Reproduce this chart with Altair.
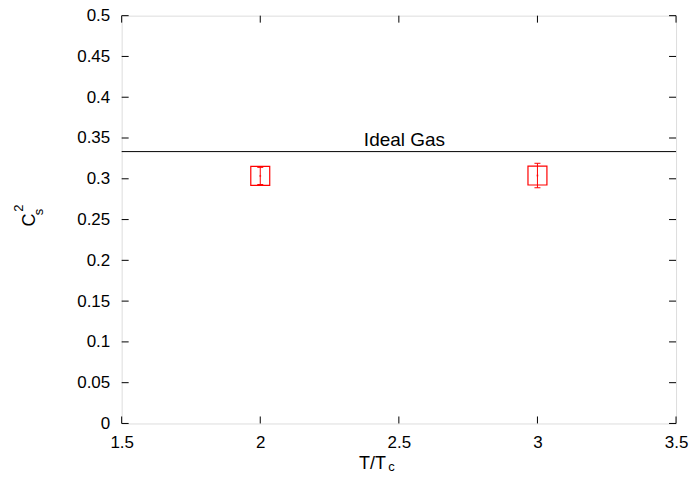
import altair as alt
import pandas as pd

# data
temps = [2.0, 3.0]
cs2 = [0.3035, 0.304]
cs2_err = [0.0105, 0.015]
ideal_gas = 1.0 / 3.0
x_ticks = [1.5, 2.0, 2.5, 3.0, 3.5]
y_ticks = [0, 0.05, 0.1, 0.15, 0.2, 0.25, 0.3, 0.35, 0.4, 0.45, 0.5]

W, H = 556, 409
FONT = "Liberation Sans"

pts = pd.DataFrame({
    "x": temps,
    "y": cs2,
    "lo": [v - e for v, e in zip(cs2, cs2_err)],
    "hi": [v + e for v, e in zip(cs2, cs2_err)],
})

xs = alt.Scale(domain=[1.5, 3.5], nice=False, zero=False)
ys = alt.Scale(domain=[0, 0.5], nice=False, zero=False)

xaxis = alt.Axis(values=x_ticks, format=".1~f", title=None, grid=False, ticks=False,
                 domain=False, labelFont=FONT, labelFontSize=17, labelColor="black",
                 labelPadding=11, labelFlush=False, labelOverlap=False)
yaxis = alt.Axis(values=y_ticks, format=".2~f", title=None, grid=False, ticks=False,
                 domain=False, labelFont=FONT, labelFontSize=17, labelColor="black",
                 labelPadding=12, labelFlush=False, labelOverlap=False)

base = alt.Chart(pts)

boxes = base.mark_point(shape="square", size=361, filled=False, color="red",
                        strokeWidth=1.2, opacity=1).encode(
    x=alt.X("x:Q", scale=xs, axis=xaxis),
    y=alt.Y("y:Q", scale=ys, axis=yaxis),
)
bars = base.mark_rule(color="red", strokeWidth=1).encode(
    x="x:Q", y="lo:Q", y2="hi:Q")
cap_hi = base.mark_rule(color="red", strokeWidth=1, xOffset=-3, x2Offset=3).encode(
    x="x:Q", x2="x:Q", y="hi:Q")
cap_lo = base.mark_rule(color="red", strokeWidth=1, xOffset=-3, x2Offset=3).encode(
    x="x:Q", x2="x:Q", y="lo:Q")
center = base.mark_point(shape="square", size=3, filled=True, color="red").encode(
    x="x:Q", y="y:Q")

ideal = alt.Chart(pd.DataFrame({"y": [ideal_gas]})).mark_rule(
    color="black", strokeWidth=1).encode(y="y:Q")
ideal_lbl = alt.Chart(pd.DataFrame({"x": [2.52], "y": [0.3405], "t": ["Ideal Gas"]})).mark_text(
    font=FONT, fontSize=19, color="black", align="center", baseline="alphabetic").encode(
    x="x:Q", y="y:Q", text="t:N")

# inward ticks on all four sides
xt = pd.DataFrame({"x": x_ticks})
yt = pd.DataFrame({"y": y_ticks})
xtick_b = alt.Chart(xt).mark_rule(color="black").encode(
    x="x:Q", y=alt.value(H), y2=alt.value(H - 7))
xtick_t = alt.Chart(xt).mark_rule(color="black").encode(
    x="x:Q", y=alt.value(0), y2=alt.value(7))
ytick_l = alt.Chart(yt).mark_rule(color="black").encode(
    y="y:Q", x=alt.value(0), x2=alt.value(7))
ytick_r = alt.Chart(yt).mark_rule(color="black").encode(
    y="y:Q", x=alt.value(W), x2=alt.value(W - 7))

def txt(s, x, y, size, angle=0):
    return alt.Chart(pd.DataFrame({"t": [s]})).mark_text(
        font=FONT, fontSize=size, color="black", align="center",
        baseline="alphabetic", angle=angle).encode(
        text="t:N", x=alt.value(x), y=alt.value(y))

xt1 = txt("T/T", 251.5, 455, 18)
xt2 = txt("c", 270.5, 457, 13)
yt1 = txt("C", -87, 205, 18, 270)
yt2 = txt("s", -79, 197, 13, 270)
yt3 = txt("2", -99, 193, 13, 270)

chart = alt.layer(
    ideal, ideal_lbl, xtick_b, xtick_t, ytick_l, ytick_r,
    bars, cap_hi, cap_lo, boxes, center,
    xt1, xt2, yt1, yt2, yt3,
).properties(
    width=W, height=H,
    autosize=alt.AutoSizeParams(type="none"),
    padding={"left": 114, "top": 7, "right": 14, "bottom": 50},
).configure_view(stroke="black", strokeWidth=1).configure(background="white")

chart.save("out.html", embed_options={"renderer": "svg", "actions": False})
